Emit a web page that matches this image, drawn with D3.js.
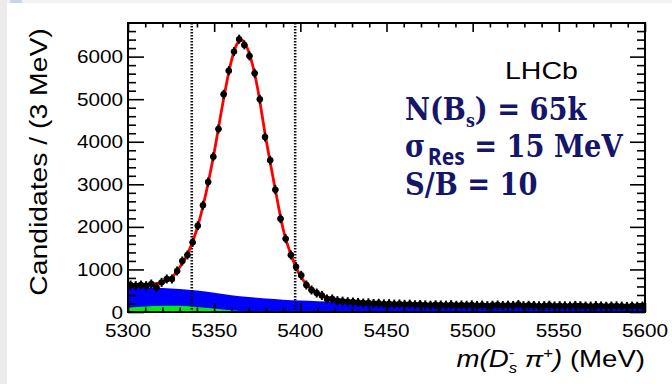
<!DOCTYPE html>
<html>
<head>
<meta charset="utf-8">
<script src="https://cdn.jsdelivr.net/npm/d3@7"></script>
<style>
  body { margin: 0; background: #fff; }
  svg { display: block; }
</style>
</head>
<body>
<div id="chart"></div>
<script>
// histogram: 100 bins of 3 MeV starting at 5300 MeV
const binLow = 5300;
const binWidth = 3;
const counts = [
  635, 619, 634, 619, 658, 580, 697, 776, 776, 963,
  1199, 1340, 1637, 2028, 2507, 3055, 3650, 4300, 5116, 5671,
  6118, 6409, 6275, 6016, 5609, 4998, 4113, 3565, 2875, 2193,
  1723, 1340, 1065, 862, 635, 517, 445, 390, 306, 306,
  266, 255, 240, 235, 225, 210, 215, 200, 205, 190,
  195, 185, 190, 180, 185, 170, 175, 168, 160, 170,
  165, 160, 172, 158, 165, 160, 168, 155, 162, 150,
  158, 165, 152, 160, 155, 175, 150, 158, 152, 145,
  150, 160, 142, 150, 145, 140, 155, 148, 140, 138,
  150, 142, 135, 140, 145, 138, 132, 140, 135, 140
];

// total fit (red curve)
const fitMass = [5300, 5310, 5320, 5325, 5330, 5335, 5340, 5345, 5350, 5355, 5360, 5363, 5366, 5369, 5372, 5375, 5380, 5385, 5390, 5395, 5400, 5405, 5410, 5415, 5420, 5430, 5440, 5450, 5470, 5500, 5550, 5600];
const fitValue = [630, 640, 700, 790, 1050, 1400, 1950, 2750, 3750, 4900, 5900, 6280, 6390, 6220, 5850, 5300, 4080, 2980, 1950, 1300, 850, 590, 445, 355, 300, 248, 218, 198, 176, 162, 150, 140];

// combinatorial + other background (blue)
const bkgMass = [5300, 5310, 5320, 5330, 5340, 5350, 5360, 5370, 5380, 5390, 5400, 5410, 5420, 5440, 5460, 5480, 5500, 5550, 5600];
const bkgValue = [590, 580, 565, 540, 505, 450, 395, 350, 315, 290, 272, 255, 240, 210, 185, 165, 150, 135, 125];

// partially reconstructed background (green)
const partMass = [5300, 5310, 5320, 5330, 5340, 5350, 5360, 5370, 5380];
const partValue = [100, 130, 148, 145, 120, 80, 40, 10, 0];

const signalWindow = [5337, 5397];
const xTicks = [5300, 5350, 5400, 5450, 5500, 5550, 5600];
const yTicks = [0, 1000, 2000, 3000, 4000, 5000, 6000];

const width = 672, height = 384;
const plot = { left: 128, right: 645, top: 23, bottom: 312 };
const navy = "#15156a";

const svg = d3.select("#chart").append("svg")
  .attr("width", width)
  .attr("height", height);

// light page border of the screenshot
svg.append("rect").attr("x", 0).attr("y", 0).attr("width", width).attr("height", 3).attr("fill", "#f2f2f2");
svg.append("rect").attr("x", 0).attr("y", 0).attr("width", 7).attr("height", height).attr("fill", "#ececec");
svg.append("rect").attr("x", 10).attr("y", 0).attr("width", 12).attr("height", 3).attr("fill", "#c9d3ee");

const x = d3.scaleLinear().domain([5300, 5600]).range([plot.left, plot.right]);
const y = d3.scaleLinear().domain([0, 6790]).range([plot.bottom, plot.top]);

svg.append("clipPath").attr("id", "clip")
  .append("rect")
  .attr("x", plot.left).attr("y", plot.top)
  .attr("width", plot.right - plot.left).attr("height", plot.bottom - plot.top);

const inner = svg.append("g").attr("clip-path", "url(#clip)");

const area = d3.area()
  .x(d => x(d[0]))
  .y0(y(0))
  .y1(d => y(d[1]))
  .curve(d3.curveMonotoneX);

inner.append("path")
  .datum(d3.zip(bkgMass, bkgValue))
  .attr("fill", "#0000ff")
  .attr("d", area);

inner.append("path")
  .datum(d3.zip(partMass, partValue))
  .attr("fill", "#00ee00")
  .attr("d", area);

// signal window markers
inner.selectAll(".window")
  .data(signalWindow)
  .enter()
  .append("line")
  .attr("x1", d => x(d)).attr("x2", d => x(d))
  .attr("y1", plot.top).attr("y2", plot.bottom)
  .attr("stroke", "#111")
  .attr("stroke-width", 2.6)
  .attr("stroke-dasharray", "1.5,1.5");

// fit line
inner.append("path")
  .datum(d3.zip(fitMass, fitValue))
  .attr("fill", "none")
  .attr("stroke", "#ff0000")
  .attr("stroke-width", 2.8)
  .attr("d", d3.line().x(d => x(d[0])).y(d => y(d[1])).curve(d3.curveMonotoneX));

// data points with error bars
const pts = inner.selectAll(".pt")
  .data(counts)
  .enter()
  .append("g");

pts.append("line")
  .attr("x1", (d, i) => x(binLow + binWidth * i + binWidth / 2))
  .attr("x2", (d, i) => x(binLow + binWidth * i + binWidth / 2))
  .attr("y1", d => Math.max(y(d - Math.sqrt(d)), y(d) + 4.5))
  .attr("y2", d => Math.min(y(d + Math.sqrt(d)), y(d) - 4.5))
  .attr("stroke", "#000")
  .attr("stroke-width", 2);

pts.append("line")
  .attr("x1", (d, i) => x(binLow + binWidth * i) - 0.5)
  .attr("x2", (d, i) => x(binLow + binWidth * (i + 1)) + 0.5)
  .attr("y1", d => y(d))
  .attr("y2", d => y(d))
  .attr("stroke", "#000")
  .attr("stroke-width", 2);

pts.append("circle")
  .attr("cx", (d, i) => x(binLow + binWidth * i + binWidth / 2))
  .attr("cy", d => y(d))
  .attr("r", 3.2)
  .attr("fill", "#000");

// ticks on all four sides, pointing inwards (ROOT style)
const yMinor = d3.range(0, 6790, 200).filter(v => v % 1000 !== 0);
const xMinor = d3.range(5300, 5601, 10).filter(v => v % 50 !== 0);

function tickGroup(axis, tx, ty) {
  svg.append("g")
    .attr("transform", `translate(${tx},${ty})`)
    .call(axis)
    .call(g => {
      g.select(".domain").remove();
      g.selectAll("text").remove();
      g.selectAll("line").attr("stroke", "#000").attr("stroke-width", 1.6);
    });
}

tickGroup(d3.axisRight(y).tickValues(yTicks).tickSize(16), plot.left, 0);
tickGroup(d3.axisRight(y).tickValues(yMinor).tickSize(8), plot.left, 0);
tickGroup(d3.axisLeft(y).tickValues(yTicks).tickSize(15), plot.right, 0);
tickGroup(d3.axisLeft(y).tickValues(yMinor).tickSize(8), plot.right, 0);
tickGroup(d3.axisTop(x).tickValues(xTicks).tickSize(9), 0, plot.bottom);
tickGroup(d3.axisTop(x).tickValues(xMinor).tickSize(4.5), 0, plot.bottom);
tickGroup(d3.axisBottom(x).tickValues(xTicks).tickSize(9), 0, plot.top);
tickGroup(d3.axisBottom(x).tickValues(xMinor).tickSize(4.5), 0, plot.top);

svg.append("rect")
  .attr("x", plot.left).attr("y", plot.top)
  .attr("width", plot.right - plot.left).attr("height", plot.bottom - plot.top)
  .attr("fill", "none")
  .attr("stroke", "#000")
  .attr("stroke-width", 2);

// text helper: the original font is a bit wider than Liberation Sans
function label(tx, ty, sx, rot) {
  return svg.append("g")
    .attr("transform", `translate(${tx},${ty})` + (rot ? ` rotate(${rot})` : "") + ` scale(${sx},1)`)
    .append("text");
}

const sans = "'Liberation Sans', Arial, Helvetica, sans-serif";

yTicks.forEach(v => {
  label(123, y(v) + 6.6, 1.12)
    .attr("text-anchor", "end")
    .attr("font-family", sans)
    .attr("font-size", 18.5)
    .text(v);
});

xTicks.forEach(v => {
  label(x(v), 337, 1.12)
    .attr("text-anchor", "middle")
    .attr("font-family", sans)
    .attr("font-size", 18.5)
    .text(v);
});

label(47, 162, 1.18, -90)
  .attr("text-anchor", "middle")
  .attr("font-family", sans)
  .attr("font-size", 24)
  .text("Candidates / (3 MeV)");

const xl = label(645, 367, 1.2)
  .attr("text-anchor", "end")
  .attr("font-family", sans)
  .attr("font-size", 23);
xl.append("tspan").attr("font-style", "italic").text("m(D");
xl.append("tspan").attr("font-size", 14).attr("dy", -9).text("-");
xl.append("tspan").attr("font-size", 14).attr("font-style", "italic").attr("dx", -4.7).attr("dy", 15).text("s");
xl.append("tspan").attr("font-style", "italic").attr("dy", -6).text(" π");
xl.append("tspan").attr("font-size", 14).attr("dy", -9).text("+");
xl.append("tspan").attr("font-style", "italic").attr("dy", 9).text(")");
xl.append("tspan").text(" (MeV)");

label(505, 79, 1.24)
  .attr("font-family", sans)
  .attr("font-size", 23)
  .text("LHCb");

// fit summary
const serif = "'DejaVu Serif', serif";
const l1 = label(405, 119.5, 0.88)
  .attr("font-family", serif).attr("font-weight", "bold").attr("font-size", 31).attr("fill", navy);
l1.append("tspan").text("N(B");
l1.append("tspan").attr("font-size", 18).attr("dy", 7).text("s");
l1.append("tspan").attr("dy", -7).text(") = 65k");

const l2 = label(405, 157, 0.88)
  .attr("font-family", serif).attr("font-weight", "bold").attr("font-size", 31).attr("fill", navy);
l2.append("tspan").text("σ");
l2.append("tspan").attr("font-family", "'Open Sans', sans-serif").attr("font-size", 24).attr("dx", 3).attr("dy", 8).text("Res");
l2.append("tspan").attr("dy", -8).text(" = 15 MeV");

label(405, 195, 0.88)
  .attr("font-family", serif).attr("font-weight", "bold").attr("font-size", 31).attr("fill", navy)
  .text("S/B = 10");
</script>
</body>
</html>
